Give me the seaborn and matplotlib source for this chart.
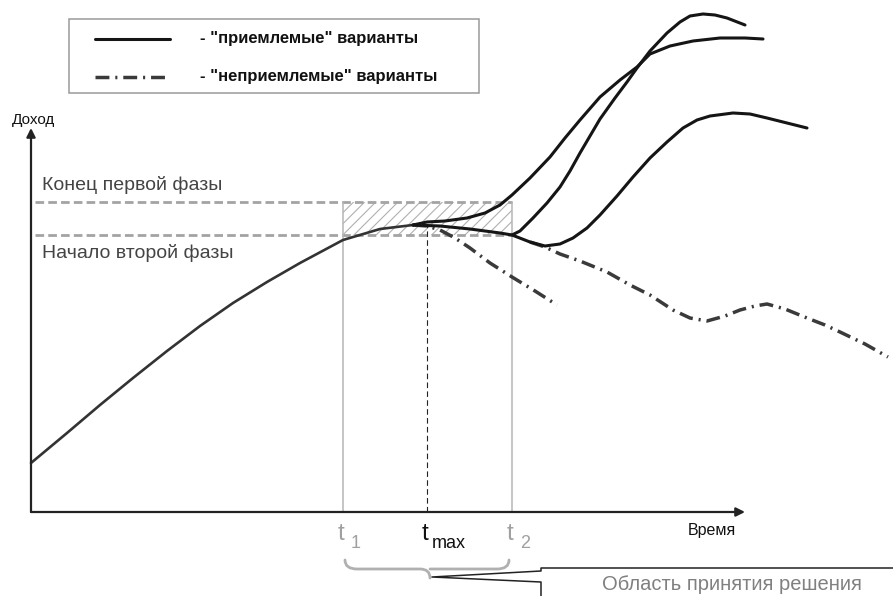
import matplotlib
matplotlib.use("Agg")
import matplotlib.pyplot as plt
import seaborn as sns
from matplotlib.patches import Rectangle, PathPatch
from matplotlib.path import Path
from matplotlib.lines import Line2D
from matplotlib.transforms import Affine2D

sns.set_theme(style="white")
plt.rcParams['font.family'] = ['Liberation Sans', 'DejaVu Sans']
plt.rcParams['hatch.linewidth'] = 0.8

# ---- schematic data: time (t) and income (inc) ----
main_t = [0, 36, 69, 102, 136, 169, 202, 236, 269, 312, 349, 382]
main_inc = [49, 79, 107, 134, 161, 186, 209, 230, 249, 272, 283, 287]

# acceptable variant that dips after t2 and recovers late
low_t = [382, 409, 439, 469, 481, 499, 514, 529, 542, 556, 569, 586, 602,
         619, 636, 652, 666, 679, 702, 719, 736, 756, 776]
low_inc = [287, 286, 283, 279, 277, 270, 266, 268, 274, 284, 297, 316, 335,
           354, 370, 384, 392, 396, 399, 398, 394, 389, 384]

# acceptable variant that takes off right after t_max
up_t = [382, 396, 414, 436, 454, 469, 481, 499, 519, 534, 549, 569, 589,
        606, 619, 639, 662, 689, 714, 732]
up_inc = [287, 290, 291, 294, 299, 307, 317, 334, 355, 374, 392, 415, 432,
          445, 458, 466, 471, 474, 474, 473]

# acceptable variant that takes off at t2
mid_t = [481, 489, 502, 516, 529, 539, 549, 559, 569, 584, 596, 606, 619,
         636, 649, 659, 672, 684, 696, 714]
mid_inc = [277, 281, 294, 309, 325, 341, 359, 376, 393, 414, 430, 444, 461,
           479, 490, 496, 498, 497, 494, 487]

# unacceptable variants
bad1_t = [382, 396, 409, 424, 439, 459, 481, 504, 526]
bad1_inc = [287, 286, 282, 274, 264, 249, 235, 221, 207]

bad2_t = [499, 514, 529, 549, 576, 599, 619, 642, 659, 676, 694, 709, 724,
          736, 754, 776, 794, 809, 834, 857]
bad2_inc = [270, 265, 258, 251, 240, 227, 217, 202, 194, 191, 196, 202, 206,
            208, 203, 194, 187, 180, 168, 155]

phase1_end = 310      # "Конец первой фазы"
phase2_start = 277    # "Начало второй фазы"
t1, t_max, t2 = 312, 396, 481
time_axis_end = 714
income_axis_end = 384

legend_labels = ['- "приемлемые" варианты', '- "неприемлемые" варианты']
decision_label = "Область принятия решения"

# ---- figure ----
W, H = 893, 596
fig = plt.figure(figsize=(W / 100, H / 100), dpi=100)
ax = fig.add_axes([0, 0, 1, 1])
ax.set_xlim(-31, W - 31)
ax.set_ylim(512 - H, 512)
ax.axis("off")

# pixel-space transform for annotations and the legend box
P = Affine2D().scale(1 / W, -1 / H).translate(0, 1) + fig.transFigure

grey_dash = (0, (3.1, 1.5))
dashdot = (0, (4.0, 1.7, 0.6, 1.7))

# phase levels and decision window
for lvl in (phase1_end, phase2_start):
    ax.plot([4, t2], [lvl, lvl], color="#a3a3a3", lw=2.0, linestyle=grey_dash,
            dash_capstyle="butt")
ax.add_patch(Rectangle((t1, phase2_start), t2 - t1, phase1_end - phase2_start,
                       facecolor="none", edgecolor="#b0b0b0", lw=0,
                       hatch="///"))
for tv in (t1, t2):
    ax.plot([tv, tv], [0, phase1_end], color="#b5b5b5", lw=1.1)
ax.plot([t_max, t_max], [0, 287], color="#222222", lw=0.8,
        linestyle=(0, (5, 3)))

# axes with arrows
ax.annotate("", xy=(0, income_axis_end), xytext=(0, 0),
            arrowprops=dict(arrowstyle="-|>", color="#222222", lw=1.6,
                            mutation_scale=13, shrinkA=0, shrinkB=0))
ax.annotate("", xy=(time_axis_end, 0), xytext=(0, 0),
            arrowprops=dict(arrowstyle="-|>", color="#222222", lw=1.6,
                            mutation_scale=13, shrinkA=0, shrinkB=0))


def curve(t, v, **kw):
    sns.lineplot(x=t, y=v, ax=ax, sort=False, estimator=None, legend=False,
                 **kw)


curve(bad1_t, bad1_inc, color="#3a3a3a", lw=2.5, linestyle=dashdot,
      dash_capstyle="butt")
curve(bad2_t, bad2_inc, color="#3a3a3a", lw=2.5, linestyle=dashdot,
      dash_capstyle="butt")
curve(main_t, main_inc, color="#333333", lw=1.9, solid_capstyle="round")
curve(low_t, low_inc, color="#151515", lw=2.2, solid_capstyle="round")
curve(up_t, up_inc, color="#151515", lw=2.2, solid_capstyle="round")
curve(mid_t, mid_inc, color="#151515", lw=2.2, solid_capstyle="round")

# axis titles and phase captions
ax.text(12, 120, "Доход", transform=P, fontsize=11, color="#111111",
        va="center", ha="left")
ax.text(688, 530, "Время", transform=P, fontsize=11.5, color="#111111",
        va="center", ha="left")
ax.text(42, 185, "Конец первой фазы", transform=P, fontsize=14,
        color="#444444", va="center", ha="left")
ax.text(42, 253, "Начало второй фазы", transform=P, fontsize=14,
        color="#444444", va="center", ha="left")

# time marks
for tv, sub, col, dx in ((t1, "1", "#a0a0a0", 11), (t_max, "max", "#111111", 8),
                         (t2, "2", "#a0a0a0", 11)):
    xpix = tv + 31
    ax.text(xpix - 2, 534, "t", transform=P, fontsize=17.5, color=col,
            ha="center", va="center")
    ax.text(xpix + dx - 3, 543, sub, transform=P, fontsize=13, color=col,
            ha="left", va="center")

# curly brace under the decision window
bx0, bx1, by0, by1 = t1 + 31 + 2, t2 + 31 - 3, 560, 569
tip_x, tip_y = 430, 578
verts = [(bx0, by0), (bx0, by1), (bx0 + 12, by1), (tip_x - 10, by1),
         (tip_x, by1), (tip_x, tip_y),
         (tip_x, by1), (tip_x + 10, by1), (bx1 - 12, by1), (bx1, by1),
         (bx1, by0)]
codes = [Path.MOVETO, Path.CURVE3, Path.CURVE3, Path.LINETO,
         Path.CURVE3, Path.CURVE3,
         Path.MOVETO, Path.LINETO, Path.LINETO, Path.CURVE3, Path.CURVE3]
ax.add_patch(PathPatch(Path(verts, codes), transform=P, facecolor="none",
                       edgecolor="#b0b0b0", lw=2.0, capstyle="round"))

# callout box
cx, cy_top = 541, 568
ax.add_line(Line2D([W, cx, cx, tip_x + 2, cx, cx], [cy_top, cy_top, 571, 577, 582, H],
                   transform=P, color="#222222", lw=1.1))
ax.text(732, 584, decision_label, transform=P, fontsize=14.5, color="#808080",
        ha="center", va="center")

# legend
ax.add_patch(Rectangle((69, 19), 410, 74, transform=P, facecolor="white",
                       edgecolor="#9a9a9a", lw=1.1))
ax.add_line(Line2D([95, 170], [39, 39], transform=P, color="#151515", lw=2.2))
ax.add_line(Line2D([95, 170], [77, 77], transform=P, color="#3a3a3a", lw=2.5,
                   linestyle=dashdot, dash_capstyle="butt"))
for y, lab in zip((39, 77), legend_labels):
    ax.text(200, y, lab, transform=P, fontsize=12, fontweight="bold",
            color="#111111", ha="left", va="center")

fig.savefig("out.png", dpi=100)
